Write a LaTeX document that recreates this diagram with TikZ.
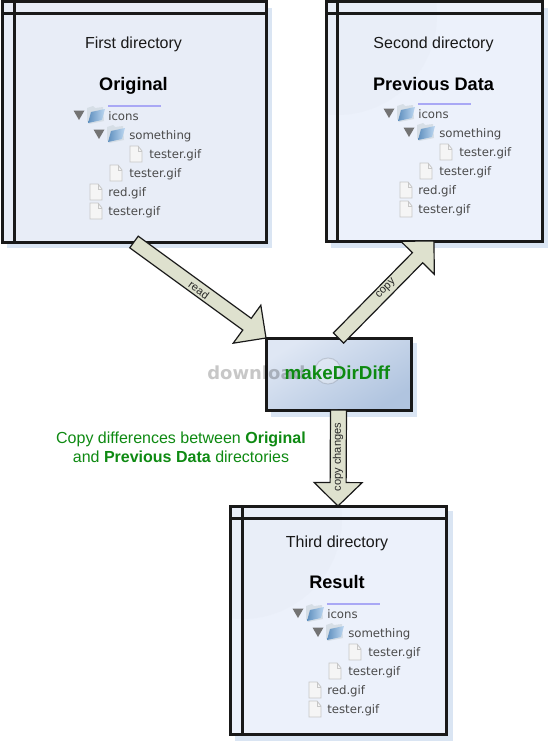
\documentclass[tikz,border=0pt]{standalone}
\usepackage{fontspec}
\setmainfont{Liberation Sans}
\newfontfamily\treefont{DejaVu Sans}
\newfontfamily\markfont{DejaVu Sans}
\usetikzlibrary{calc}
\definecolor{panelA}{HTML}{E8EDF7}
\definecolor{panelB}{HTML}{ECF1FB}
\definecolor{shadowblue}{HTML}{DAE5F3}
\definecolor{arrowfill}{HTML}{DEE1CE}
\definecolor{diffgreen}{HTML}{0E8A12}
\definecolor{treegray}{HTML}{4A4A4A}
\definecolor{rulev}{HTML}{A9A8F5}
\definecolor{boxlight}{HTML}{DFE7F4}
\definecolor{boxdark}{HTML}{B0C4DF}
\definecolor{foldblue}{HTML}{6FA8E0}
\definecolor{foldpale}{HTML}{D6DEE6}
\tikzset{
  x=0.75pt,y=-0.75pt,
  frame/.style={draw=black!90,line width=2.25pt,inner sep=0pt,outer sep=0pt,anchor=north west},
  gridline/.style={draw=black!90,line width=2.25pt},
  dirtitle/.style={font=\fontsize{12}{14}\selectfont,text=black!90,inner sep=0pt,anchor=base},
  bigtitle/.style={font=\fontsize{13.6}{16}\bfseries\selectfont,inner sep=0pt,anchor=base},
  treetext/.style={font=\fontsize{8.8}{10}\treefont\selectfont,text=treegray,anchor=base west,inner sep=0pt},
  greentext/.style={font=\fontsize{12}{14.25}\selectfont,text=diffgreen,inner sep=0pt,align=center},
  arrowtext/.style={font=\fontsize{8.3}{9}\selectfont,text=black!85,inner sep=0pt},
  blockarrow/.style={draw=black!90,line width=0.9pt,fill=arrowfill,line join=miter},
  treeline/.style={draw=rulev,line width=1pt},
}
% arguments: head base name, tail, tip, shaft half width, head half width, head length (all pt)
\newcommand{\blockarr}[6]{
  \coordinate (#1) at ($(#3)!#6!(#2)$);
  \draw[blockarrow] ($(#2)!#4!90:(#3)$) -- ($(#1)!#4!90:(#3)$) -- ($(#1)!#5!90:(#3)$) -- (#3)
    -- ($(#1)!#5!-90:(#3)$) -- ($(#1)!#4!-90:(#3)$) -- ($(#2)!#4!-90:(#3)$) -- cycle;
}
\newcommand{\twisty}[2]{\fill[black!55] (#1-5.5,#2-4.5) -- (#1+5.5,#2-4.5) -- (#1,#2+5) -- cycle;}
\newcommand{\foldericon}[2]{
  \begin{scope}[shift={(#1,#2)}]
    \fill[foldpale] (-9,-7) -- (-3,-9) -- (-1,-7) -- (7,-8) -- (8,6) -- (-7,9) -- (-9,6) -- cycle;
    \shade[left color=foldblue!85!black,right color=foldblue!45!white] (-8,8) -- (-5,-3) -- (9,-6) -- (6,5) -- cycle;
  \end{scope}
}
\newcommand{\fileicon}[2]{
  \begin{scope}[shift={(#1,#2)}]
    \filldraw[fill=white!96!black,draw=black!22,line width=0.6pt] (-6,-8) -- (2,-8) -- (6,-3) -- (6,8) -- (-6,8) -- cycle;
    \draw[black!22,line width=0.4pt] (2,-8) -- (2,-3) -- (6,-3);
  \end{scope}
}
% prefix: tree placed for the first directory, moved by the enclosing scope
\newcommand{\filetree}[1]{
  \draw[treeline] (108,106) -- (161,106);
  \twisty{79}{115}\foldericon{96}{115}
  \node[treetext] (#1-icons) at (108,120) {icons};
  \twisty{99}{134}\foldericon{116}{134}
  \node[treetext] (#1-something) at (129,139) {something};
  \fileicon{136}{154}
  \node[treetext] (#1-t1) at (149,158) {tester.gif};
  \fileicon{116}{173}
  \node[treetext] (#1-t2) at (129,177) {tester.gif};
  \fileicon{96}{192}
  \node[treetext] (#1-red) at (108,196) {red.gif};
  \fileicon{96}{211}
  \node[treetext] (#1-t3) at (108,215) {tester.gif};
}
\begin{document}
\begin{tikzpicture}
\useasboundingbox (0,0) rectangle (550,742);
\fill[white] (0,0) rectangle (550,742);
% shadows
\fill[shadowblue] (7,8) rectangle (272,248);
\fill[shadowblue] (331,8) rectangle (548,248);
\fill[shadowblue] (235,511) rectangle (453,741);
\fill[shadowblue] (271,343) rectangle (417,417);
% panels
\node[frame,fill=panelA,minimum width=198pt,minimum height=180pt] (first) at (2,2) {};
\node[frame,fill=panelB,minimum width=162pt,minimum height=179.25pt] (second) at (326,2) {};
\node[frame,fill=panelB,minimum width=162pt,minimum height=171pt] (third) at (230,506) {};
\begin{scope}
  \clip (326,2) rectangle (542,241);
  \fill[panelA!70!panelB] (337,15) circle (100);
\end{scope}
\begin{scope}
  \clip (230,506) rectangle (446,734);
  \fill[panelA!70!panelB] (242,519) circle (100);
\end{scope}
\draw[gridline] (first.north west) rectangle (first.south east);
\draw[gridline] (second.north west) rectangle (second.south east);
\draw[gridline] (third.north west) rectangle (third.south east);
\draw[gridline] (14,2) -- (14,242) (2,14) -- (266,14);
\draw[gridline] (337,2) -- (337,241) (326,14) -- (542,14);
\draw[gridline] (242,506) -- (242,734) (230,518) -- (446,518);
% titles
\node[dirtitle] (t1) at (133.5,49) {First directory};
\node[bigtitle] (o1) at (133.5,90) {Original};
\node[dirtitle] (t2) at (433.5,49) {Second directory};
\node[bigtitle] (o2) at (433.5,90) {Previous Data};
\node[dirtitle] (t3) at (337,547) {Third directory};
\node[bigtitle] (o3) at (337,588) {Result};
% trees
\begin{scope}\filetree{a}\end{scope}
\begin{scope}[shift={(310,-2)}]\filetree{b}\end{scope}
\begin{scope}[shift={(219,498)}]\filetree{c}\end{scope}
% central box
\node[frame,minimum width=108.75pt,minimum height=54pt,top color=boxlight,bottom color=boxdark,shading angle=32] (diff) at (266,338) {};
% arrows
\blockarr{hr}{first.south}{diff.north west}{5.4pt}{17.6pt}{17.6pt}
\blockarr{hc}{diff.north}{second.south}{5.4pt}{17.6pt}{17.6pt}
\blockarr{hd}{diff.south}{third.north}{6pt}{18pt}{17.6pt}
\node[arrowtext,rotate=-36] (lr) at (199,290) {read};
\node[arrowtext,rotate=45] (lc) at (386,289) {copy};
\node[arrowtext,rotate=90] (ld) at (338,457) {copy changes};
% watermark
\node[font=\fontsize{13.5}{16}\markfont\bfseries\selectfont,text=black,text opacity=0.22,inner sep=0pt,anchor=base west] (wm) at (207,379) {download};
\fill[white,fill opacity=0.3] (328,371) circle (13);
\draw[black,draw opacity=0.12,line width=0.8pt] (328,371) circle (13);
% centre label and caption
\node[font=\fontsize{14.1}{16}\bfseries\selectfont,text=diffgreen,inner sep=0pt,anchor=base] (dl) at (337.5,379) {makeDirDiff};
\node[greentext] (cap) at (181,447.5) {Copy differences between \textbf{Original}\\and \textbf{Previous Data} directories};
\end{tikzpicture}
\end{document}
